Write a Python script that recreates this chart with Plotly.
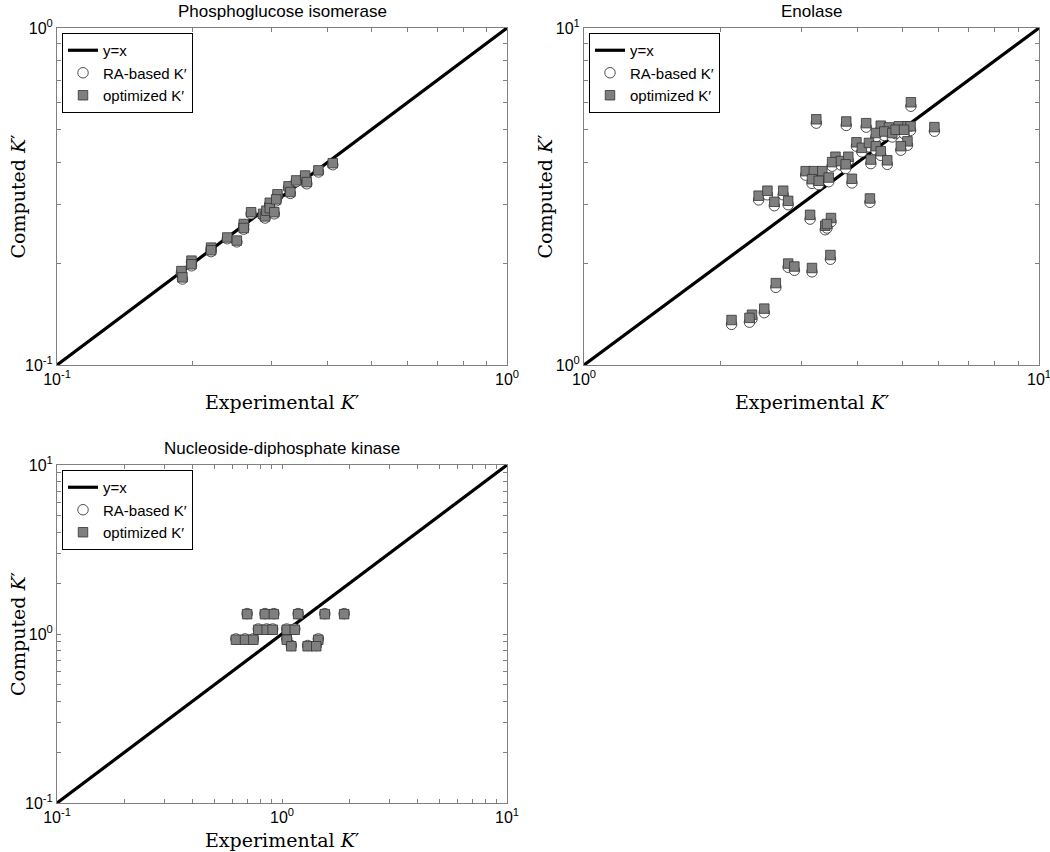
import plotly.graph_objects as go

# ---------------- data ----------------
# Panel 1: Phosphoglucose isomerase
p1_exp = [0.189, 0.190, 0.199, 0.199, 0.220, 0.220, 0.239, 0.251, 0.260, 0.260,
          0.270, 0.287, 0.290, 0.292, 0.297, 0.297, 0.304, 0.309, 0.307, 0.327,
          0.330, 0.340, 0.356, 0.359, 0.381, 0.410]
p1_ra = [0.188, 0.180, 0.202, 0.197, 0.221, 0.217, 0.237, 0.232, 0.260, 0.253,
         0.281, 0.278, 0.273, 0.284, 0.300, 0.289, 0.281, 0.318, 0.307, 0.336,
         0.323, 0.350, 0.361, 0.345, 0.374, 0.393]
p1_opt = [0.190, 0.182, 0.204, 0.199, 0.223, 0.219, 0.239, 0.234, 0.262, 0.255,
          0.284, 0.281, 0.276, 0.287, 0.303, 0.292, 0.284, 0.321, 0.310, 0.339,
          0.326, 0.353, 0.365, 0.349, 0.378, 0.397]

# Panel 2: Enolase
p2_exp = [3.24, 3.77, 4.17, 5.23, 5.89, 4.49, 4.68, 4.92, 5.14, 5.22,
          4.38, 4.57, 4.76, 4.84, 5.05, 3.97, 4.08, 4.23, 4.38, 4.49,
          5.14, 4.97, 4.27, 4.64, 3.57, 3.51, 3.67, 3.81, 3.76, 3.07,
          3.20, 3.34, 3.17, 3.28, 3.45, 3.88, 2.42, 2.53, 2.62, 2.74,
          2.81, 4.25, 3.14, 3.39, 3.49, 3.42, 2.81, 2.90, 3.17, 3.48,
          2.64, 2.49, 2.11, 2.34, 2.31]
p2_opt = [5.36, 5.28, 5.22, 6.02, 5.08, 5.13, 5.07, 5.11, 5.11, 5.11,
          4.88, 4.93, 4.88, 4.99, 4.99, 4.58, 4.41, 4.56, 4.46, 4.31,
          4.61, 4.46, 4.07, 4.05, 4.15, 4.00, 4.03, 4.15, 3.94, 3.76,
          3.76, 3.76, 3.56, 3.52, 3.60, 3.57, 3.18, 3.29, 3.05, 3.29,
          3.07, 3.12, 2.79, 2.59, 2.73, 2.62, 2.00, 1.96, 1.94, 2.12,
          1.75, 1.47, 1.36, 1.41, 1.38]
p2_ra = [5.22, 5.14, 5.08, 5.86, 4.94, 4.99, 4.93, 4.97, 4.97, 4.97,
         4.75, 4.80, 4.75, 4.86, 4.86, 4.46, 4.29, 4.44, 4.34, 4.19,
         4.49, 4.34, 3.96, 3.94, 4.04, 3.89, 3.92, 4.04, 3.83, 3.66,
         3.66, 3.66, 3.46, 3.43, 3.50, 3.47, 3.09, 3.20, 2.97, 3.20,
         2.99, 3.04, 2.71, 2.52, 2.66, 2.55, 1.95, 1.91, 1.89, 2.06,
         1.70, 1.43, 1.32, 1.37, 1.34]

# Panel 3: Nucleoside-diphosphate kinase
p3_exp = [0.70, 0.84, 0.92, 1.18, 1.55, 1.89,
          0.785, 0.855, 0.909, 1.05, 1.14,
          0.624, 0.685, 0.746, 1.05, 1.45,
          1.10, 1.30, 1.42]
p3_opt = [1.31, 1.31, 1.31, 1.31, 1.31, 1.31,
          1.06, 1.06, 1.06, 1.06, 1.06,
          0.925, 0.925, 0.925, 0.925, 0.925,
          0.846, 0.846, 0.846]
p3_ra = [1.32, 1.32, 1.32, 1.32, 1.32, 1.32,
         1.07, 1.07, 1.07, 1.07, 1.07,
         0.935, 0.935, 0.935, 0.935, 0.935,
         0.855, 0.855, 0.855]

# y = x reference lines (axis range ends)
p1_line = [0.1, 1.0]
p2_line = [1.0, 10.0]
p3_line = [0.1, 10.0]

titles = ["Phosphoglucose isomerase", "Enolase", "Nucleoside-diphosphate kinase"]
legend_names = ["y=x", "RA-based K\u2032", "optimized K\u2032"]

# ---------------- figure ----------------
W, H = 1050, 852
SANS = "Liberation Sans, Arial, sans-serif"
SERIF = "DejaVu Serif, Liberation Serif, serif"

fig = go.Figure()

panels = [
    dict(exp=p1_exp, ra=p1_ra, opt=p1_opt, line=p1_line, xa="x", ya="y", leg="legend"),
    dict(exp=p2_exp, ra=p2_ra, opt=p2_opt, line=p2_line, xa="x2", ya="y2", leg="legend2"),
    dict(exp=p3_exp, ra=p3_ra, opt=p3_opt, line=p3_line, xa="x3", ya="y3", leg="legend3"),
]

for p in panels:
    fig.add_trace(go.Scatter(x=p["line"], y=p["line"], mode="lines",
                             line=dict(color="black", width=3.2),
                             name=legend_names[0], xaxis=p["xa"], yaxis=p["ya"],
                             legend=p["leg"]))
    fig.add_trace(go.Scatter(x=p["exp"], y=p["ra"], mode="markers",
                             marker=dict(symbol="circle", size=10.5, color="white",
                                         line=dict(color="#222222", width=0.8)),
                             name=legend_names[1], xaxis=p["xa"], yaxis=p["ya"],
                             legend=p["leg"]))
    fig.add_trace(go.Scatter(x=p["exp"], y=p["opt"], mode="markers",
                             marker=dict(symbol="square", size=9.5, color="#7f7f7f",
                                         line=dict(color="#333333", width=0.8)),
                             name=legend_names[2], xaxis=p["xa"], yaxis=p["ya"],
                             legend=p["leg"]))


def log_ticks(lo, hi):
    vals, texts = [], []
    for e in range(lo, hi + 1):
        vals.append(10.0 ** e)
        texts.append("10<sup>%d</sup>" % e)
        if e < hi:
            for k in range(2, 10):
                vals.append(k * 10.0 ** e)
                texts.append("")
    return vals, texts


def axis_style(lo, hi, domain):
    vals, texts = log_ticks(lo, hi)
    return dict(type="log", range=[lo, hi], domain=domain, tickvals=vals, ticktext=texts,
                ticks="inside", ticklen=4, tickcolor="#808080", tickwidth=1,
                showline=True, linecolor="#808080", linewidth=1, mirror="ticks",
                showgrid=False, zeroline=False, automargin=False,
                ticklabeloverflow="allow",
                tickfont=dict(family=SANS, size=16, color="black"))


# pixel boxes on screen (left, right, top, bottom)
boxes = [(57, 507, 28, 365), (584, 1039, 28, 365), (57, 507, 465, 803)]
ranges = [(-1, 0), (0, 1), (-1, 1)]


def px(v):
    return v / W


def py(v):
    return 1 - v / H


for i, ((l, r, t, b), (lo, hi)) in enumerate(zip(boxes, ranges)):
    xd = [px(l), px(r)]
    yd = [py(b), py(t)]
    sfx = "" if i == 0 else str(i + 1)
    xa = axis_style(lo, hi, xd)
    ya = axis_style(lo, hi, yd)
    xa["anchor"] = "y" + sfx
    ya["anchor"] = "x" + sfx
    fig.layout["xaxis" + sfx] = xa
    fig.layout["yaxis" + sfx] = ya
    cx = px((l + r) / 2)
    # panel title
    fig.add_annotation(text=titles[i], x=cx, y=py(t - 17), xref="paper", yref="paper",
                       showarrow=False, font=dict(family=SANS, size=17, color="black"),
                       xanchor="center", yanchor="middle")
    # x title
    fig.add_annotation(text="Experimental <i>K</i>\u2032", x=cx, y=py(b + 37),
                       xref="paper", yref="paper", showarrow=False,
                       font=dict(family=SERIF, size=19, color="black"),
                       xanchor="center", yanchor="middle")
    # y title
    fig.add_annotation(text="Computed <i>K</i>\u2032", x=px(l - 39), y=py((t + b) / 2),
                       xref="paper", yref="paper", showarrow=False, textangle=-90,
                       font=dict(family=SERIF, size=19, color="black"),
                       xanchor="center", yanchor="middle")
    legname = "legend" if i == 0 else "legend" + str(i + 1)
    fig.layout[legname] = dict(x=px(l + 5), y=py(t + 5), xanchor="left", yanchor="top",
                               bgcolor="white", bordercolor="black", borderwidth=1,
                               font=dict(family=SANS, size=15, color="black"),
                               tracegroupgap=0, itemwidth=30)

fig.update_layout(width=W, height=H, margin=dict(l=0, r=0, t=0, b=0),
                  paper_bgcolor="white", plot_bgcolor="white", showlegend=True)

fig.write_html("out.html",
               config={"displayModeBar": False},
               post_script="document.body.style.margin='0px';"
                           "document.body.style.padding='0px';"
                           "document.body.style.overflow='hidden';")
